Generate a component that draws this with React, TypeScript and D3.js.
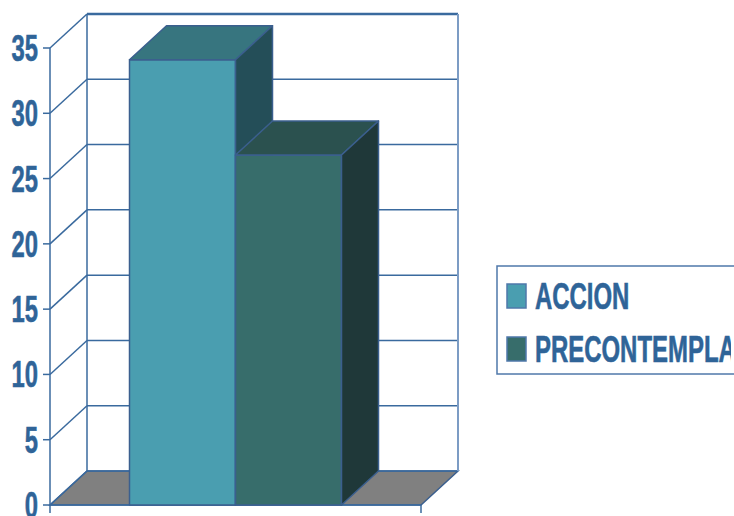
import React from "react";
import * as d3 from "d3";

const categories = ["Grupo"];
const seriesNames = ["ACCION", "PRECONTEMPLACION"];
const seriesValues = [34.1, 26.8];
const yTicks = [0, 5, 10, 15, 20, 25, 30, 35];

const fronts = ["#4A9EB0", "#376D6B"];
const tops = ["#37757F", "#2B514F"];
const sides = ["#244E58", "#1F3839"];
const OUT = "#3B5F8E";
const GRID = "#3A6A9E";
const TXT = "#2F6498";

export default function App() {
  const W = 734, H = 516;
  const DX = 37, DY = -34;
  const y = d3.scaleLinear().domain([0, 35]).range([505, 48]);
  const x0 = d3.scaleBand().domain(categories).range([50, 421]).paddingInner(0).paddingOuter(0.375);
  const x1 = d3.scaleBand().domain(seriesNames).range([0, x0.bandwidth()]);
  const y0 = y(0);
  const xl = 50, xr = 421;
  const pts = (a: number[][]) => a.map((p) => p.join(",")).join(" ");

  return (
    <div style={{ position: "fixed", left: 0, top: 0, width: W, height: H, background: "#fff" }}>
      <svg width={W} height={H} style={{ display: "block" }}>
        <defs>
          <clipPath id="legclip">
            <rect x={0} y={0} width={731} height={H} />
          </clipPath>
        </defs>
        {/* floor */}
        <polygon
          points={pts([[xl, y0], [xl + DX, y0 + DY], [xr + DX, y0 + DY], [xr, y0]])}
          fill="#808080" stroke={OUT} strokeWidth={1.5}
        />
        {/* back wall gridlines */}
        {yTicks.map((t) => (
          <g key={t}>
            <line x1={xl + DX} x2={xr + DX} y1={y(t) + DY} y2={y(t) + DY} stroke={GRID} strokeWidth={t === 35 ? 2.5 : 1.5} />
            <line x1={xl} y1={y(t)} x2={xl + DX} y2={y(t) + DY} stroke={GRID} strokeWidth={1.5} />
            <line x1={43} x2={xl} y1={y(t)} y2={y(t)} stroke={GRID} strokeWidth={1.5} />
          </g>
        ))}
        <line x1={xl + DX} x2={xl + DX} y1={y(35) + DY} y2={y0 + DY} stroke={GRID} strokeWidth={1.5} />
        <line x1={xr + DX} x2={xr + DX} y1={y(35) + DY} y2={y0 + DY} stroke="#7C9CC4" strokeWidth={2} />
        <line x1={xl} x2={xl} y1={y(35)} y2={513} stroke={GRID} strokeWidth={1.5} />
        <line x1={xl} x2={xr} y1={y0} y2={y0} stroke={GRID} strokeWidth={1.5} />
        <line x1={xr} x2={xr} y1={y0} y2={513} stroke={GRID} strokeWidth={1.5} />
        {/* bars */}
        {categories.map((c) =>
          seriesNames.map((s, i) => {
            const bx = (x0(c) as number) + (x1(s) as number);
            const bw = x1.bandwidth();
            const by = y(seriesValues[i]);
            return (
              <g key={c + s} stroke={OUT} strokeWidth={1.5} strokeLinejoin="round">
                <rect x={bx} y={by} width={bw} height={y0 - by} fill={fronts[i]} />
                <polygon points={pts([[bx, by], [bx + DX, by + DY], [bx + bw + DX, by + DY], [bx + bw, by]])} fill={tops[i]} />
                <polygon points={pts([[bx + bw, by], [bx + bw + DX, by + DY], [bx + bw + DX, y0 + DY], [bx + bw, y0]])} fill={sides[i]} />
              </g>
            );
          })
        )}
        {/* y labels */}
        {yTicks.map((t) => (
          <text key={t} transform={`translate(38,${y(t) + 13}) scale(0.66,1)`} textAnchor="end"
            fontFamily="Liberation Sans, Arial, sans-serif" fontWeight="bold" fontSize={36} fill={TXT}
            stroke={TXT} strokeWidth={0.6}>
            {t}
          </text>
        ))}
        {/* legend */}
        <rect x={497} y={266} width={300} height={108} fill="#fff" stroke="#4F78AA" strokeWidth={1.5} />
        <g clipPath="url(#legclip)">
          {seriesNames.map((s, i) => {
            const ty = 309 + i * 53;
            return (
              <g key={s}>
                <rect x={507} y={ty - 25} width={19} height={24} fill={fronts[i]} stroke="#4F78AA" strokeWidth={1.5} />
                <text transform={`translate(535,${ty}) scale(0.665,1)`} fontFamily="Liberation Sans, Arial, sans-serif"
                  fontWeight="bold" fontSize={36} fill={TXT} stroke={TXT} strokeWidth={0.6}>
                  {s}
                </text>
              </g>
            );
          })}
        </g>
      </svg>
    </div>
  );
}
